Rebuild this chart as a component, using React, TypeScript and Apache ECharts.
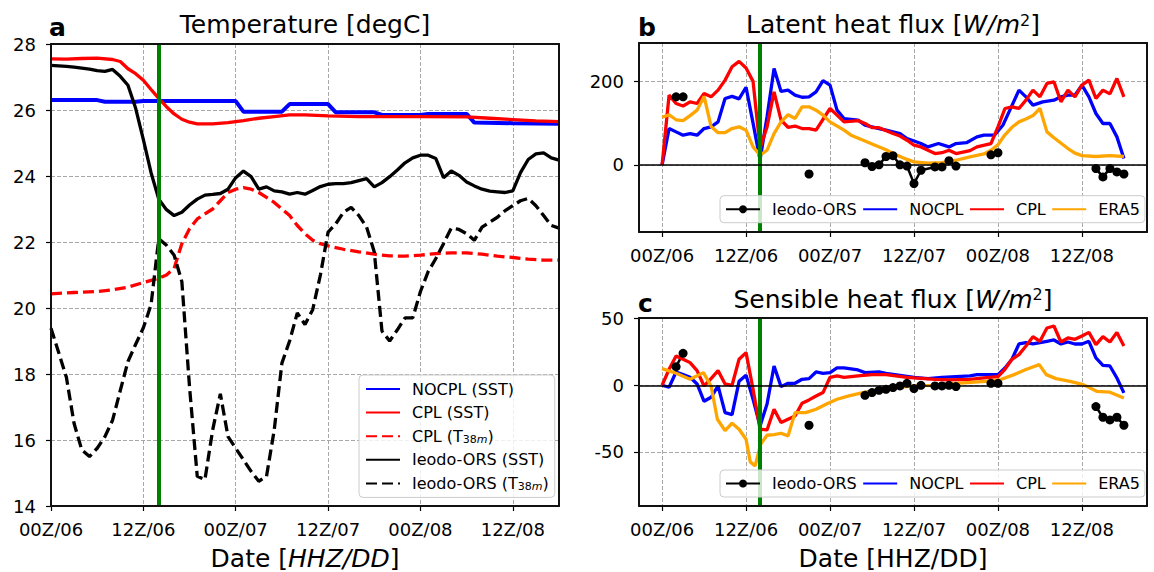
import React, { useEffect, useRef } from 'react';
import * as echarts from 'echarts';

const FONT = 'DejaVu Sans';

// x ticks (hours since 00Z/06)
const hourTicks = [0, 12, 24, 36, 48, 60];
const hourTickLabels = ['00Z/06', '12Z/06', '00Z/07', '12Z/07', '00Z/08', '12Z/08'];
const latentTicks = [0, 200];
const sensibleTicks = [-50, 0, 50];
const landfallHour = 14;

// ---- Panel a: temperature [degC] ----
const nocplSst: [number, number][] = [
  [0, 26.3], [6, 26.3], [7, 26.25], [11, 26.25], [12, 26.27], [24, 26.27], [25, 25.95], [30, 25.95],
  [31, 26.18], [36, 26.18], [37, 25.93], [42, 25.93], [43, 25.85], [48, 25.85], [49, 25.88], [54, 25.88],
  [55, 25.62], [60, 25.6], [66, 25.58],
];
const cplSst: [number, number][] = [
  [0, 27.55], [2, 27.54], [4, 27.56], [6, 27.57], [8, 27.53], [9, 27.47], [10, 27.25], [11, 27.1],
  [12, 26.9], [13, 26.62], [14, 26.35], [15, 26.1], [16, 25.88], [17, 25.72], [18, 25.63], [19, 25.58],
  [21, 25.58], [23, 25.62], [25, 25.68], [27, 25.75], [29, 25.8], [31, 25.85], [33, 25.85], [36, 25.82],
  [40, 25.8], [48, 25.8], [54, 25.79], [57, 25.75], [60, 25.71], [63, 25.67], [66, 25.65],
];
const cplT38: [number, number][] = [
  [0, 20.43], [3, 20.47], [6, 20.5], [8, 20.55], [10, 20.63], [12, 20.77], [14, 20.9], [15, 21.0],
  [16, 21.2], [17, 21.95], [18, 22.4], [19, 22.7], [20, 22.85], [21, 23.0], [22, 23.25], [23, 23.5],
  [24, 23.6], [25, 23.65], [26, 23.6], [27, 23.5], [28, 23.35], [29, 23.2], [30, 23.0], [31, 22.8],
  [32, 22.5], [33, 22.25], [34, 22.05], [35, 21.95], [36, 21.88], [38, 21.78], [40, 21.7], [42, 21.63],
  [44, 21.58], [46, 21.57], [48, 21.6], [50, 21.65], [52, 21.67], [54, 21.67], [56, 21.63], [58, 21.57],
  [60, 21.53], [62, 21.48], [64, 21.45], [66, 21.45],
];
const ieodoSst: [number, number][] = [
  [0, 27.35], [1, 27.34], [2, 27.32], [3, 27.3], [4, 27.27], [5, 27.24], [6, 27.19], [7, 27.17],
  [8, 27.23], [9, 27.02], [10, 26.75], [11, 26.05], [12, 25.1], [13, 24.1], [14, 23.3], [15, 22.98],
  [16, 22.8], [17, 22.9], [18, 23.12], [19, 23.3], [20, 23.42], [21, 23.44], [22, 23.47], [23, 23.6],
  [24, 23.95], [25, 24.15], [26, 23.98], [27, 23.6], [28, 23.67], [29, 23.55], [30, 23.52], [31, 23.45],
  [32, 23.5], [33, 23.45], [34, 23.56], [35, 23.68], [36, 23.75], [37, 23.77], [38, 23.77], [39, 23.8],
  [40, 23.86], [41, 23.92], [42, 23.67], [43, 23.8], [44, 23.98], [45, 24.18], [46, 24.4], [47, 24.55],
  [48, 24.63], [49, 24.63], [50, 24.53], [51, 23.95], [52, 24.15], [53, 24.02], [54, 23.82], [55, 23.7],
  [56, 23.6], [57, 23.54], [58, 23.52], [59, 23.5], [60, 23.55], [61, 24.1], [62, 24.5], [63, 24.67],
  [64, 24.7], [65, 24.55], [66, 24.48],
];
const ieodoT38: [number, number][] = [
  [0, 19.39], [1, 18.65], [2, 17.9], [3, 16.5], [4, 15.7], [5, 15.5], [6, 15.75], [7, 16.1],
  [8, 16.6], [9, 17.5], [10, 18.38], [11, 18.9], [12, 19.4], [13, 20.1], [14, 22.1], [15, 21.9],
  [16, 21.6], [17, 20.8], [18, 17.6], [19, 14.9], [20, 14.8], [21, 16.3], [22, 17.4], [23, 16.1],
  [24, 15.75], [25, 15.4], [26, 15.05], [27, 14.75], [28, 14.9], [29, 16.3], [30, 18.33], [31, 19.0],
  [32, 19.85], [33, 19.5], [34, 19.95], [35, 21.0], [36, 22.3], [37, 22.55], [38, 22.9], [39, 23.05],
  [40, 22.8], [41, 22.45], [42, 21.7], [43, 19.3], [44, 19.0], [45, 19.34], [46, 19.7], [47, 19.7],
  [48, 20.5], [49, 21.1], [50, 21.5], [51, 21.95], [52, 22.42], [53, 22.38], [54, 22.25], [55, 22.05],
  [56, 22.45], [57, 22.6], [58, 22.75], [59, 22.95], [60, 23.1], [61, 23.25], [62, 23.32], [63, 23.1],
  [64, 22.8], [65, 22.5], [66, 22.42],
];

// ---- Panel b: latent heat flux [W/m2] ----
const latIeodo: [number, number | null][] = [
  [2, 163], [3, 163], [4, null], [21, -22], [22, null],
  [29, 5], [30, -4], [31, 0], [32, 20], [33, 22], [34, 0], [35, -3], [36, -45], [37, -13],
  [39, -5], [40, -5], [41, 10], [42, -3], [43, null], [47, 24], [48, 29], [49, null],
  [62, -9], [63, -29], [64, -9], [65, -17], [66, -22],
];
const latNocpl: [number, number][] = [
  [0, 0], [1, 87], [2, 79], [3, 71], [4, 75], [5, 71], [6, 87], [7, 91], [8, 103], [9, 159], [10, 164],
  [11, 158], [12, 186], [13, 100], [14, 12], [15, 115], [16, 231], [17, 176], [18, 179], [19, 167],
  [20, 162], [21, 163], [22, 175], [23, 202], [24, 191], [25, 131], [26, 111], [28, 107], [29, 95],
  [31, 87], [32, 83], [34, 75], [35, 63], [37, 51], [38, 43], [39.5, 51], [41, 43], [42, 51], [43.5, 53],
  [45, 67], [46, 71], [47.5, 71], [48.7, 95], [49.7, 131], [51, 179], [52, 163], [53, 143], [54.4, 151],
  [56, 155], [57, 163], [58, 167], [59, 167], [60, 191], [61, 163], [62, 123], [63, 99], [64, 99],
  [65, 67], [66, 15],
];
const latCpl: [number, number][] = [
  [0, 0], [1, 167], [2, 147], [3, 141], [4, 151], [5, 147], [6, 171], [7, 163], [8, 179], [9, 203],
  [10, 235], [11, 248], [12, 232], [13, 200], [14, 40], [15, 91], [16, 175], [17, 107], [18, 90],
  [19, 93], [20, 87], [21, 87], [22, 83], [24, 135], [25, 119], [26, 103], [28, 106], [29, 99], [30, 89],
  [31, 89], [33, 75], [34, 69], [35, 59], [36, 47], [37, 43], [39, 27], [40, 29], [41, 35], [42, 27],
  [44, 34], [45, 43], [47, 51], [48, 91], [49, 135], [50, 139], [51, 135], [52, 155], [53, 179],
  [54, 163], [55, 195], [56, 199], [57, 151], [58, 179], [59, 163], [60, 191], [61, 203], [62, 159],
  [63, 179], [64, 170], [65, 207], [66, 163],
];
const latEra5: [number, number][] = [
  [0, 114], [1, 120], [2, 108], [3, 106], [4, 118], [5, 131], [6, 164], [7, 92], [8, 77], [9, 77],
  [10, 87], [11, 91], [12, 83], [13, 43], [14, 23], [15, 35], [16, 75], [17, 103], [18, 120], [19, 111],
  [20, 139], [21, 139], [22, 131], [23, 119], [24, 103], [26, 83], [27, 71], [29, 57], [30, 50],
  [32, 36], [33, 27], [35, 13], [36, 7], [38, 4], [40, 5], [42, 11], [44, 19], [46, 26], [47, 35],
  [48, 48], [49, 72], [50, 90], [51, 103], [52, 110], [53, 118], [54, 135], [55, 79], [56, 65],
  [58, 39], [59, 28], [60, 22], [62, 20], [64, 22], [66, 20],
];

// ---- Panel c: sensible heat flux [W/m2] ----
const senIeodo: [number, number | null][] = [
  [2, 14], [3, 24], [4, null], [21, -30], [22, null],
  [29, -7.5], [30, -5.5], [31, -3.75], [32, -3], [33, -1.75], [34, -0.5], [35, 1.5], [36, -2.5], [37, 0],
  [39, -0.5], [40, -0.5], [41, 0], [42, -1], [43, null], [47, 1.5], [48, 1.5], [49, null],
  [62, -16], [63, -24], [64, -26], [65, -24], [66, -30],
];
const senNocpl: [number, number][] = [
  [0, 0], [1, -1.5], [2, 10], [3, 8], [4, 6], [5, 1], [6, -12], [7, -9], [8, -0.5], [9, -20.5],
  [10, -22], [11, 3], [12, 7.5], [13, -10.5], [14, -30.5], [15, -14], [16, 14.5], [17, -1], [18, 1.5],
  [19, 1.5], [20, 4.5], [21, 5], [22, 10], [23, 9], [24, 9.5], [25, 13], [26, 13], [28, 11.5],
  [29, 9.5], [31, 10], [32, 9], [34, 7.5], [36, 6], [38, 5], [40, 6], [42, 6.5], [44, 7], [45, 8],
  [47, 8], [48, 8], [49, 13], [50, 19.5], [51, 31], [52, 32], [53, 31], [54, 32], [55, 33], [56, 34],
  [57, 31], [58, 32.5], [59, 31], [60, 31], [61, 33], [62, 20.5], [63, 15], [64, 14.5], [65, 5.5],
  [66, -5.7],
];
const senCpl: [number, number][] = [
  [0, 0], [1, 12], [2, 22], [3, 19.5], [4, 17], [5, 11], [6, -0.5], [7, 5], [8, 11], [9, 1], [10, 0],
  [11, 19.5], [12, 24.5], [13, -3], [14, -33], [15, -33.5], [16, -18], [17, -28], [18, -25.5],
  [19, -23], [20, -13.5], [21, -11], [22, -8], [23, -5.5], [24, 6], [25, 7], [26, 6], [28, 7], [30, 8],
  [32, 8], [35, 6], [36, 5.5], [39, 4.5], [41, 4], [44, 4.5], [46, 5.5], [48, 6.5], [49, 12],
  [50, 19.5], [51, 23], [52, 29.5], [53, 36.5], [54, 33], [55, 43], [56, 44.5], [57, 32.5], [58, 35.5],
  [59, 34.5], [60, 37], [61, 39.7], [62, 30.5], [63, 36.5], [64, 32.5], [65, 39.7], [66, 29.5],
];
const senEra5: [number, number][] = [
  [0, 12.5], [2, 9], [4, 4.5], [5.9, 9.5], [7, -0.5], [7.9, -25.5], [9, -34], [10, -28.5], [11, -33],
  [12, -40.5], [12.6, -57.5], [13.3, -60.5], [14.1, -44], [15, -37.5], [16, -37], [17, -36], [18, -38],
  [19, -20.5], [20.5, -20.5], [22, -18], [23.5, -14], [25, -10.5], [26.7, -8], [28.7, -5.5],
  [30.8, -3.5], [33.3, -1.75], [36, -0.5], [38.5, 0], [41, 1], [43.6, 2], [46.2, 3], [48.2, 4],
  [50.3, 8], [52, 11.8], [53.9, 15.5], [54.9, 8], [56.3, 5], [58.3, 3], [60.2, 0.5], [62.1, -4.5],
  [64, -5.2], [66, -9.5],
];

const BLUE = '#0000ff';
const RED = '#ff0000';
const ORANGE = '#ffa500';
const BLACK = '#000000';
const GREEN = '#008000';

const gridLine = { show: true, lineStyle: { color: '#a8a8a8', width: 1, type: [4, 2] as number[] } };

function xAxisFor(gridIndex: number, min: number, max: number, name?: string, italic?: boolean) {
  return {
    type: 'value',
    gridIndex,
    min,
    max,
    position: 'bottom',
    axisLine: { show: false, onZero: false },
    axisTick: { show: true, customValues: hourTicks, length: 5, lineStyle: { color: '#000', width: 1.2 } },
    axisLabel: {
      customValues: hourTicks,
      formatter: (v: number) => {
        const i = hourTicks.indexOf(v);
        return i >= 0 ? hourTickLabels[i] : '';
      },
      fontSize: 18,
      color: '#000',
      fontFamily: FONT,
      margin: 14,
    },
    splitLine: gridLine,
    name: name || '',
    nameLocation: 'middle',
    nameGap: 40,
    nameTextStyle: {
      fontSize: 25,
      color: '#000',
      fontFamily: FONT,
      rich: { i: { fontSize: 25, fontStyle: italic ? 'italic' : 'normal', fontFamily: FONT, color: '#000' } },
    },
  };
}

function yAxisFor(gridIndex: number, min: number, max: number, ticks?: number[], interval?: number) {
  return {
    type: 'value',
    gridIndex,
    min,
    max,
    interval,
    position: 'left',
    axisLine: { show: false, onZero: false },
    axisTick: { show: true, length: 5, customValues: ticks, lineStyle: { color: '#000', width: 1.2 } },
    axisLabel: { customValues: ticks, fontSize: 18, color: '#000', fontFamily: FONT, margin: 15 },
    splitLine: gridLine,
  };
}

// plain axes that only draw the black frame around each panel
function frameAxis(gridIndex: number, position: string) {
  return {
    type: 'value',
    gridIndex,
    position,
    min: 0,
    max: 1,
    offset: 0,
    silent: true,
    z: 6,
    axisLine: { show: true, onZero: false, lineStyle: { color: '#111', width: 2 } },
    axisTick: { show: false },
    axisLabel: { show: false },
    splitLine: { show: false },
  };
}

function lineSeries(name: string, data: any[], color: string, axis: number, opts: any = {}) {
  return {
    type: 'line',
    name,
    data,
    xAxisIndex: axis,
    yAxisIndex: axis,
    symbol: opts.symbol || 'none',
    symbolSize: opts.symbolSize || 9,
    showSymbol: !!opts.symbol,
    connectNulls: false,
    lineStyle: { color, width: opts.width || 3.3, type: opts.dashed ? [11, 5] : 'solid' },
    itemStyle: { color },
    emphasis: { disabled: true },
    markLine: opts.markLine,
    z: 3,
  };
}

const markLines = (withZero: boolean) => ({
  silent: true,
  symbol: ['none', 'none'],
  label: { show: false },
  animation: false,
  data: [
    { xAxis: landfallHour, lineStyle: { color: GREEN, width: 4, type: 'solid' } },
    ...(withZero ? [{ yAxis: 0, lineStyle: { color: BLACK, width: 1.6, type: 'solid' } }] : []),
  ],
});

const legendText = {
  fontSize: 16,
  color: '#000',
  fontFamily: FONT,
  lineHeight: 18,
  padding: [0, 0, 0, 7],
  rich: {
    s: { fontSize: 11, fontFamily: FONT, color: '#000', padding: [7, 0, 0, 0] },
    si: { fontSize: 11, fontFamily: FONT, fontStyle: 'italic', color: '#000', padding: [7, 0, 0, 0] },
  },
};

const legendBox = {
  backgroundColor: 'rgba(255,255,255,0.8)',
  borderColor: '#cccccc',
  borderWidth: 1,
  borderRadius: 4,
  itemWidth: 34,
  itemHeight: 10,
  selectedMode: false,
  itemStyle: { opacity: 0 },
  textStyle: legendText,
  z: 10,
};

const titleStyle = {
  fontSize: 25,
  fontWeight: 'normal',
  color: '#000',
  fontFamily: FONT,
  rich: {
    i: { fontSize: 25, fontStyle: 'italic', fontFamily: FONT, color: '#000' },
    sup: { fontSize: 16, fontFamily: FONT, color: '#000', padding: [0, 0, 9, 0] },
  },
};
const letterStyle = { fontSize: 25, fontWeight: 'bold', color: '#000', fontFamily: FONT };

const gridBase = {
  show: false,
  containLabel: false,
  outerBoundsMode: 'none',
};

export default function App() {
  const ref = useRef<HTMLDivElement>(null);
  useEffect(() => {
    if (!ref.current) return;
    const chart = echarts.init(ref.current, undefined, { renderer: 'svg' });
    const fluxLegendData = [
      { name: 'Ieodo-ORS', itemStyle: { opacity: 1 } },
      { name: 'NOCPL' },
      { name: 'CPL' },
      { name: 'ERA5' },
    ];
    const option: any = {
      animation: false,
      backgroundColor: '#ffffff',
      textStyle: { fontFamily: FONT },
      title: [
        { text: 'a', left: 49, top: 15, padding: 0, textStyle: letterStyle },
        { text: 'Temperature [degC]', left: 305, top: 12, padding: 0, textAlign: 'center', textStyle: titleStyle },
        { text: 'b', left: 638, top: 15, padding: 0, textStyle: letterStyle },
        { text: 'Latent heat flux [{i|W/m}{sup|2}]', left: 893, top: 12, padding: 0, textAlign: 'center', textStyle: titleStyle },
        { text: 'c', left: 638, top: 291, padding: 0, textStyle: letterStyle },
        { text: 'Sensible heat flux [{i|W/m}{sup|2}]', left: 893, top: 286.5, padding: 0, textAlign: 'center', textStyle: titleStyle },
      ],
      legend: [
        {
          ...legendBox,
          orient: 'vertical',
          left: 359,
          top: 375,
          padding: [5, 6, 5, 6],
          itemGap: 5.6,
          data: ['NOCPL (SST)', 'CPL (SST)', 'CPL (T38m)', 'Ieodo-ORS (SST)', 'Ieodo-ORS (T38m)'],
          formatter: (name: string) => name.replace('(T38m)', '(T{s|38}{si|m})'),
        },
        {
          ...legendBox,
          orient: 'horizontal',
          left: 720,
          top: 195.7,
          padding: [4.5, 5, 4.5, 5],
          itemGap: 5.5,
          data: fluxLegendData,
        },
        {
          ...legendBox,
          orient: 'horizontal',
          left: 720,
          top: 470,
          padding: [4.5, 5, 4.5, 5],
          itemGap: 5.5,
          data: fluxLegendData,
        },
      ],
      grid: [
        { ...gridBase, left: 51, top: 44, width: 508, height: 462 },
        { ...gridBase, left: 639, top: 43, width: 508, height: 189 },
        { ...gridBase, left: 639, top: 318, width: 508, height: 188 },
      ],
      xAxis: [
        xAxisFor(0, 0, 66, 'Date [{i|HHZ/DD}]', true),
        xAxisFor(1, -3.3, 69.3),
        xAxisFor(2, -3.3, 69.3, 'Date [HHZ/DD]', false),
        frameAxis(0, 'top'), frameAxis(0, 'bottom'),
        frameAxis(1, 'top'), frameAxis(1, 'bottom'),
        frameAxis(2, 'top'), frameAxis(2, 'bottom'),
      ],
      yAxis: [
        yAxisFor(0, 14, 28, undefined, 2),
        yAxisFor(1, -161, 292, latentTicks),
        yAxisFor(2, -90.6, 50.5, sensibleTicks),
        frameAxis(0, 'left'), frameAxis(0, 'right'),
        frameAxis(1, 'left'), frameAxis(1, 'right'),
        frameAxis(2, 'left'), frameAxis(2, 'right'),
      ],
      series: [
        lineSeries('NOCPL (SST)', nocplSst, BLUE, 0, { width: 4, markLine: markLines(false) }),
        lineSeries('CPL (SST)', cplSst, RED, 0),
        lineSeries('CPL (T38m)', cplT38, RED, 0, { dashed: true }),
        lineSeries('Ieodo-ORS (SST)', ieodoSst, BLACK, 0),
        lineSeries('Ieodo-ORS (T38m)', ieodoT38, BLACK, 0, { dashed: true }),

        lineSeries('Ieodo-ORS', latIeodo, BLACK, 1, { symbol: 'circle', width: 2.5, markLine: markLines(true) }),
        lineSeries('NOCPL', latNocpl, BLUE, 1),
        lineSeries('CPL', latCpl, RED, 1),
        lineSeries('ERA5', latEra5, ORANGE, 1),

        lineSeries('Ieodo-ORS', senIeodo, BLACK, 2, { symbol: 'circle', width: 2.5, markLine: markLines(true) }),
        lineSeries('NOCPL', senNocpl, BLUE, 2),
        lineSeries('CPL', senCpl, RED, 2),
        lineSeries('ERA5', senEra5, ORANGE, 2),
      ],
    };
    chart.setOption(option);
    return () => chart.dispose();
  }, []);
  return (
    <div
      ref={ref}
      style={{ position: 'absolute', left: 0, top: 0, width: 1154, height: 572, background: '#fff' }}
    />
  );
}
